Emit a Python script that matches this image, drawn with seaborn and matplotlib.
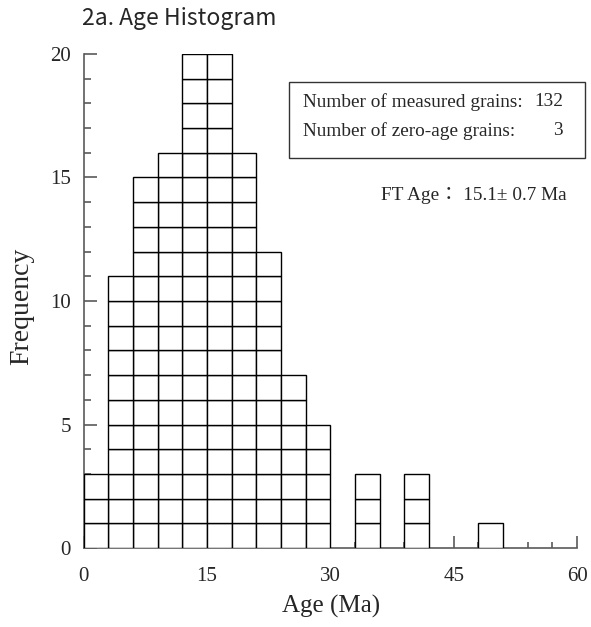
import matplotlib
matplotlib.use("Agg")
import matplotlib.pyplot as plt
import seaborn as sns
import pandas as pd
from matplotlib.patches import Rectangle
from matplotlib.ticker import MultipleLocator

# ---- data ----
bin_left = [0, 3, 6, 9, 12, 15, 18, 21, 24, 27, 30, 33, 36, 39, 42, 45, 48]
counts   = [3, 11, 15, 16, 20, 20, 16, 12, 7, 5, 0, 3, 0, 3, 0, 0, 1]
bin_width = 3
x_ticks = [0, 15, 30, 45, 60]
y_ticks = [0, 5, 10, 15, 20]
title = "2a. Age Histogram"
xlabel = "Age (Ma)"
ylabel = "Frequency"
n_measured = 132
n_zero = 3
ft_age_text = "FT Age\uff1a 15.1\u00b1 0.7 Ma"

# one row per grain; 'layer' = position in stack so stacking gives unit squares
rows = []
for left, c in zip(bin_left, counts):
    for k in range(c):
        rows.append({"age": left + bin_width / 2, "layer": f"L{k:02d}"})
df = pd.DataFrame(rows)
layers = sorted(df["layer"].unique())

sns.set_style("white")
W, H = 591, 627
fig = plt.figure(figsize=(W / 100, H / 100), dpi=100)
fx = lambda px: px / W
fy = lambda py: 1 - py / H

ax = fig.add_axes([fx(83.5), fy(548), fx(577) - fx(83.5), fy(54) - fy(548)])

sns.histplot(data=df, x="age", hue="layer", hue_order=layers, multiple="stack",
             binwidth=bin_width, binrange=(0, 51),
             palette={l: "white" for l in layers}, edgecolor="black",
             linewidth=1.0, alpha=1, legend=False, ax=ax)
for p in ax.patches:
    if p.get_height() == 0:
        p.set_visible(False)

ax.set_xlim(0, 60)
ax.set_ylim(0, 20)
for s in ["top", "right"]:
    ax.spines[s].set_visible(False)
for s in ["left", "bottom"]:
    ax.spines[s].set_color("#5a5a5a")
    ax.spines[s].set_linewidth(1.2)
    ax.spines[s].set_zorder(0.5)

ax.set_xticks(x_ticks)
ax.set_yticks(y_ticks)
ax.xaxis.set_minor_locator(MultipleLocator(3))
ax.yaxis.set_minor_locator(MultipleLocator(1))
serif = "Liberation Serif"
ax.tick_params(axis="both", which="both", direction="in", color="#5a5a5a", width=1.2,
               bottom=True, left=True, top=False, right=False)
ax.tick_params(axis="y", which="major", length=9.5, pad=9, labelsize=15)
ax.tick_params(axis="y", which="minor", length=5)
ax.tick_params(axis="x", which="major", length=8.6, pad=14, labelsize=15)
ax.tick_params(axis="x", which="minor", length=4.3)
for lab in ax.get_xticklabels() + ax.get_yticklabels():
    lab.set_fontfamily(serif)
ax.set_xlabel("")
ax.set_ylabel("")

fig.text(fx(331), fy(606), xlabel, ha="center", va="center", fontsize=18, family=serif)
fig.text(fx(22), fy(306), ylabel, ha="center", va="center", rotation=90, fontsize=20, family=serif)
fig.text(fx(82), fy(18), title, ha="left", va="center", fontsize=16.5,
         family=["Noto Sans CJK JP", "DejaVu Sans"])

# info box
fig.patches.append(Rectangle((fx(289), fy(158)), fx(585) - fx(289), fy(82) - fy(158),
                             transform=fig.transFigure, fill=False, edgecolor="#333333",
                             linewidth=1.0))
fs = 13.9
fig.text(fx(303), fy(102), "Number of measured grains:", ha="left", va="center", fontsize=fs, family=serif)
fig.text(fx(563), fy(102), f"{n_measured}", ha="right", va="center", fontsize=fs, family=serif)
fig.text(fx(303), fy(131), "Number of zero-age grains:", ha="left", va="center", fontsize=fs, family=serif)
fig.text(fx(563), fy(131), f"{n_zero}", ha="right", va="center", fontsize=fs, family=serif)
fig.text(fx(567), fy(196), ft_age_text, ha="right", va="center", fontsize=fs,
         family=[serif, "Noto Sans CJK JP"])

fig.savefig("out.png", dpi=100)
